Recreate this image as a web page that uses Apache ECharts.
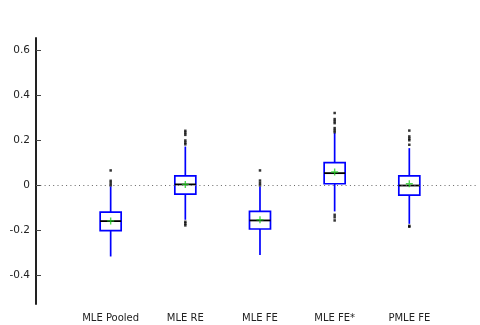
<!DOCTYPE html>
<html>
<head>
<meta charset="utf-8">
<script src="https://cdn.jsdelivr.net/npm/echarts@6/dist/echarts.min.js"></script>
<style>html,body{margin:0;padding:0;background:#fff;}#c{width:480px;height:325px;}</style>
</head>
<body>
<div id="c"></div>
<script>
// ---- data ----
var categories = ['MLE Pooled', 'MLE RE', 'MLE FE', 'MLE FE*', 'PMLE FE'];
// [lower whisker, Q1, median, Q3, upper whisker]
var boxPooled = [-0.316, -0.201, -0.159, -0.119, -0.005];
var boxRE     = [-0.153, -0.039,  0.004,  0.042,  0.172];
var boxFE     = [-0.309, -0.194, -0.156, -0.116, -0.005];
var boxFEstar = [-0.116,  0.007,  0.054,  0.101,  0.232];
var boxPMLE   = [-0.171, -0.044, -0.001,  0.042,  0.165];
var means = [-0.158, 0.004, -0.153, 0.059, 0.007];
var outPooled = [0.0, 0.010, 0.020, 0.066];
var outRE     = [0.182, 0.190, 0.199, 0.224, 0.233, 0.242, -0.162, -0.170, -0.178];
var outFE     = [0.0, 0.010, 0.021, 0.066];
var outFEstar = [0.236, 0.245, 0.254, 0.276, 0.285, 0.294, 0.321, -0.131, -0.142, -0.156];
var outPMLE   = [0.180, 0.200, 0.208, 0.217, 0.243, -0.180, -0.184];
var yTicks = [-0.4, -0.2, 0, 0.2, 0.4, 0.6];

var boxes = [boxPooled, boxRE, boxFE, boxFEstar, boxPMLE];
var outs = [outPooled, outRE, outFE, outFEstar, outPMLE];
var boxData = boxes.map(function (b, i) { return [i + 1].concat(b); });
var meanData = means.map(function (m, i) { return [i + 1, m]; });
var outData = [];
outs.forEach(function (arr, i) { arr.forEach(function (v) { outData.push([i + 1, v]); }); });

var BLUE = '#0000ff';
var BOXW = 21;

function renderBox(params, api) {
  var x = api.value(0);
  var pLo = api.coord([x, api.value(1)]);
  var pQ1 = api.coord([x, api.value(2)]);
  var pMed = api.coord([x, api.value(3)]);
  var pQ3 = api.coord([x, api.value(4)]);
  var pHi = api.coord([x, api.value(5)]);
  return {
    type: 'group',
    children: [
      { type: 'line', shape: { x1: pHi[0], y1: pHi[1], x2: pQ3[0], y2: pQ3[1] }, style: { stroke: BLUE, lineWidth: 1.7 } },
      { type: 'line', shape: { x1: pQ1[0], y1: pQ1[1], x2: pLo[0], y2: pLo[1] }, style: { stroke: BLUE, lineWidth: 1.7 } },
      { type: 'rect', shape: { x: pQ3[0] - BOXW / 2, y: pQ3[1], width: BOXW, height: pQ1[1] - pQ3[1] }, style: { fill: '#fff', stroke: BLUE, lineWidth: 1.7 } },
      { type: 'line', shape: { x1: pMed[0] - BOXW / 2, y1: pMed[1], x2: pMed[0] + BOXW / 2, y2: pMed[1] }, style: { stroke: '#000', lineWidth: 1.8 } }
    ]
  };
}

var chart = echarts.init(document.getElementById('c'), null, { renderer: 'canvas' });
chart.setOption({
  animation: false,
  backgroundColor: '#fff',
  textStyle: { fontFamily: 'DejaVu Sans' },
  grid: { left: 36, right: 2, top: 38, bottom: 21, containLabel: false },
  xAxis: {
    type: 'value', min: 0, max: 5.92,
    axisLine: { show: false }, axisTick: { show: false }, splitLine: { show: false },
    axisLabel: {
      customValues: [1, 2, 3, 4, 5],
      formatter: function (v) { return categories[Math.round(v) - 1] || ''; },
      fontSize: 10, color: '#222', margin: 9, fontFamily: 'DejaVu Sans'
    }
  },
  yAxis: {
    type: 'value', min: -0.527, max: 0.654,
    axisLine: { show: true, lineStyle: { color: '#222', width: 2 } },
    axisTick: { show: true, inside: true, length: 5, customValues: yTicks, lineStyle: { color: '#444', width: 1 } },
    splitLine: { show: false },
    axisLabel: {
      customValues: yTicks,
      formatter: function (v) { return Math.abs(v) < 1e-9 ? '0' : v.toFixed(1); },
      fontSize: 10.5, color: '#222', margin: 6, fontFamily: 'DejaVu Sans'
    }
  },
  series: [
    {
      type: 'line', data: [], z: 1, silent: true,
      markLine: {
        symbol: 'none', silent: true, label: { show: false },
        lineStyle: { color: '#666', type: [1, 3.3], width: 1 },
        data: [{ yAxis: 0 }]
      }
    },
    {
      type: 'custom', renderItem: renderBox, data: boxData, z: 2,
      encode: { x: 0, y: [1, 2, 3, 4, 5] }
    },
    {
      type: 'scatter', data: outData, z: 3, symbol: 'rect', symbolSize: 2.5,
      itemStyle: { color: '#000' }
    },
    {
      type: 'scatter', data: meanData, z: 4,
      symbol: 'path://M4,0H6V4H10V6H6V10H4V6H0V4H4Z', symbolSize: 7,
      itemStyle: { color: '#22cc22' }
    }
  ]
});
</script>
</body>
</html>
